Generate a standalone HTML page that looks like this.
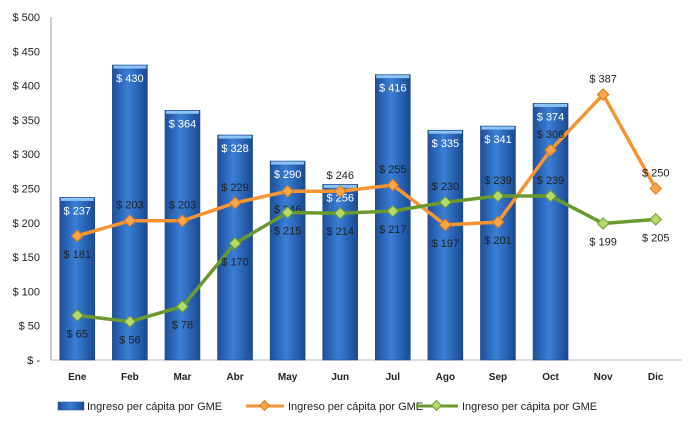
<!DOCTYPE html>
<html><head><meta charset="utf-8"><style>
html,body{margin:0;padding:0;background:#fff}
svg{display:block;font-family:"Liberation Sans",sans-serif}
</style></head><body>
<svg id="chart" width="688" height="428" viewBox="0 0 688 428">
<defs>
<linearGradient id="bg" x1="0" x2="1" y1="0" y2="0">
<stop offset="0" stop-color="#1d4f9a"/><stop offset="0.45" stop-color="#3a7fd6"/><stop offset="1" stop-color="#1a4a92"/>
</linearGradient>
</defs>
<g id="grid"></g>
<g id="bars"></g>
<g id="lines"></g>
<g id="legend">
<rect x="58" y="402" width="26" height="8" fill="url(#bg)" stroke="#1a4a92" stroke-width="0.5"/>
<text x="87" y="410" font-size="11" fill="#222">Ingreso per cápita por GME</text>
<line x1="246" y1="406" x2="284" y2="406" stroke="#f79433" stroke-width="3"/>
<rect x="261" y="402" width="7" height="7" transform="rotate(45 264.5 405.5)" fill="#f9a54c" stroke="#e07a12"/>
<text x="288" y="410" font-size="11" fill="#222">Ingreso per cápita por GME</text>
<line x1="416" y1="406" x2="458" y2="406" stroke="#6a9a2e" stroke-width="3"/>
<rect x="433" y="402" width="7" height="7" transform="rotate(45 436.5 405.5)" fill="#b5d96a" stroke="#6a9a2e"/>
<text x="462" y="410" font-size="11" fill="#222">Ingreso per cápita por GME</text>
</g>
</svg>
<script>
const categories=["Ene","Feb","Mar","Abr","May","Jun","Jul","Ago","Sep","Oct","Nov","Dic"];
const barValues=[237,430,364,328,290,256,416,335,341,374,null,null];
const orangeValues=[181,203,203,229,246,246,255,197,201,306,387,250];
const greenValues=[65,56,78,170,215,214,217,230,239,239,199,205];
const orangeLabelSide=["below","above","above","above","below","above","above","below","below","above","above","above"];
const greenLabelSide=["below","below","below","below","below","below","below","above","above","above","below","below"];
const yTicks=[0,50,100,150,200,250,300,350,400,450,500];
const NS="http://www.w3.org/2000/svg";
const x0=51,x1=682,yBase=360,yTop=17,yMax=500;
const band=(x1-x0)/categories.length;
function xs(i){return x0+band*(i+0.5);}
function ys(v){return yBase-(v/yMax)*(yBase-yTop);}
function mk(tag,attrs,parent){const e=document.createElementNS(NS,tag);for(const k in attrs)e.setAttribute(k,attrs[k]);parent.appendChild(e);return e;}
const grid=document.getElementById('grid'),bars=document.getElementById('bars'),lines=document.getElementById('lines');
let ax=mk('line',{x1:x0,y1:yTop,x2:x0,y2:yBase,stroke:'#bbb','stroke-width':1.5},grid);


let bx=mk('line',{x1:x0,y1:yBase,x2:x1,y2:yBase,stroke:'#bbb','stroke-width':1},grid);


yTicks.forEach(v=>{const t=mk('text',{x:40,y:ys(v)+4,'font-size':11,'text-anchor':'end',fill:'#222'},grid);


t.textContent=v===0?'$ -':'$ '+v;});
categories.forEach((c,i)=>{const t=mk('text',{x:xs(i),y:380,'font-size':10,'font-weight':'bold','text-anchor':'middle',fill:'#222'},grid);


t.textContent=c;});
barValues.forEach((v,i)=>{if(v==null)return;const bw=35,top=ys(v);
const r=mk('rect',{x:xs(i)-bw/2,y:top,width:bw,height:yBase-top,fill:'url(#bg)',stroke:'#1a4a92','stroke-width':0.6},bars);


const h=mk('rect',{x:xs(i)-bw/2+1,y:top+0.5,width:bw-2,height:3,fill:'#8ec3f5'},bars);


const t=mk('text',{x:xs(i),y:top+17,'font-size':11,'text-anchor':'middle',fill:'#fff'},bars);


t.textContent='$ '+v;});
function series(vals,sides,color,fill,stroke,name){
const pts=vals.map((v,i)=>xs(i)+','+ys(v)).join(' ');
const pl=mk('polyline',{points:pts,fill:'none',stroke:color,'stroke-width':3.5,'stroke-linejoin':'round'},lines);


vals.forEach((v,i)=>{const cx=xs(i),cy=ys(v);
const m=mk('rect',{x:cx-4,y:cy-4,width:8,height:8,transform:`rotate(45 ${cx} ${cy})`,fill:fill,stroke:stroke,'stroke-width':1},lines);


const ty=sides[i]==='above'?cy-12:cy+22;
const t=mk('text',{x:cx,y:ty,'font-size':11,'text-anchor':'middle',fill:'#222'},lines);


t.textContent='$ '+v;});}
series(orangeValues,orangeLabelSide,'#f79433','#f9a54c','#e07a12','orange-series');
series(greenValues,greenLabelSide,'#6a9a2e','#b5d96a','#6a9a2e','green-series');
</script>
</body></html>
